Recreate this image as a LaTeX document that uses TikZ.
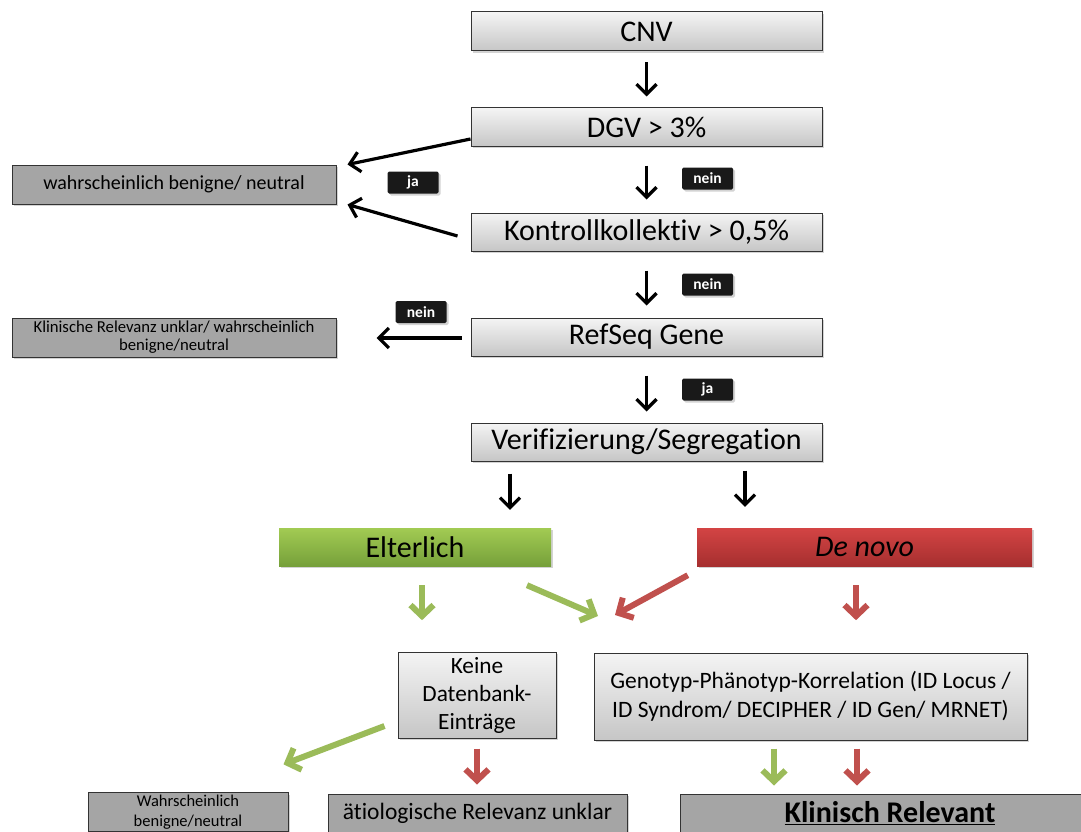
\documentclass[tikz,border=0pt]{standalone}
\usepackage{fontspec}
\setmainfont{Carlito}[Ligatures=NoCommon]
\usetikzlibrary{arrows.meta,shadows}

\definecolor{lgtop}{HTML}{F4F4F4}
\definecolor{lgbot}{HTML}{C6C6C6}
\definecolor{dgray}{HTML}{A5A5A5}
\definecolor{grtop}{HTML}{A2CB53}
\definecolor{grbot}{HTML}{76A03A}
\definecolor{rdtop}{HTML}{D34444}
\definecolor{rdbot}{HTML}{A62F2F}
\definecolor{garr}{HTML}{9BBB59}
\definecolor{rarr}{HTML}{C0504D}

\tikzset{
  shade/.style={drop shadow={opacity=0.35,shadow xshift=2pt,shadow yshift=-2pt}},
  gbox/.style={draw=black!80,line width=1pt,top color=lgtop,bottom color=lgbot,
    shade,inner sep=2pt},
  dbox/.style={draw=black!80,line width=1pt,fill=dgray,shade,inner sep=2pt},
  tag/.style={fill=black!90,text=white,rounded corners=1.5pt,font=\fontsize{15.5}{16}\selectfont\bfseries,
    minimum width=51pt,minimum height=22pt,inner sep=0pt,shade},
  blk/.style={line width=3.2pt,-{Straight Barb[length=10pt,width=20pt,line width=3.2pt]}},
  grn/.style={garr,line width=6pt,-{Straight Barb[length=11pt,width=23pt,line width=6pt]}},
  rd/.style={rarr,line width=6pt,-{Straight Barb[length=11pt,width=23pt,line width=6pt]}},
}

\begin{document}
\begin{tikzpicture}[x=1pt,y=-1pt]
\useasboundingbox (0,0) rectangle (1081,832);
\clip (0,0) rectangle (1081,831.5);

% main column
\node[gbox,minimum width=351pt,minimum height=39pt,font=\fontsize{30}{34}\selectfont] (cnv) at (646.5,31.5) {CNV};
\node[gbox,minimum width=351pt,minimum height=38pt,font=\fontsize{30}{34}\selectfont] (dgv) at (646.5,127) {DGV > 3\%};
\node[gbox,minimum width=351pt,minimum height=38pt,font=\fontsize{30}{34}\selectfont] (kontroll) at (646.5,232) {Kontrollkollektiv > 0,5\%};
\node[gbox,minimum width=351pt,minimum height=38pt,font=\fontsize{30}{34}\selectfont] (refseq) at (646.5,337) {RefSeq Gene};
\node[gbox,minimum width=351pt,minimum height=38pt,font=\fontsize{30}{34}\selectfont] (verif) at (646.5,442) {Verifizierung/Segregation};

% left results
\node[dbox,minimum width=324pt,minimum height=39pt,font=\fontsize{20}{22}\selectfont] (wbn) at (174,184.5) {wahrscheinlich benigne/ neutral};
\node[dbox,minimum width=324pt,minimum height=39pt,align=center,font=\fontsize{16.7}{18}\selectfont] (kru) at (174,337.5) {Klinische Relevanz unklar/ wahrscheinlich\\benigne/neutral};

% labels
\node[tag] (ja1) at (413,182.5) {ja};
\node[tag] (nein1) at (707.5,178.5) {nein};
\node[tag] (nein2) at (707.5,284.5) {nein};
\node[tag] (ja2) at (707.5,389.5) {ja};
\node[tag] (nein3) at (421,312) {nein};

% origin
\node[draw=none,top color=grtop,bottom color=grbot,shade,minimum width=272pt,minimum height=38pt,
  font=\fontsize{30}{34}\selectfont] (elter) at (415,547) {Elterlich};
\node[draw=none,top color=rdtop,bottom color=rdbot,shade,minimum width=335pt,minimum height=38pt,
  font=\fontsize{30}{34}\selectfont\itshape] (denovo) at (864.5,547) {De novo};

% lower boxes
\node[gbox,minimum width=158pt,minimum height=86pt,align=center,font=\fontsize{23.3}{28}\selectfont] (keine) at (477,695) {Keine\\Datenbank-\\Einträge};
\node[gbox,minimum width=433pt,minimum height=87pt,align=center,font=\fontsize{23.5}{29}\selectfont] (geno) at (810.5,696.5) {Genotyp-Phänotyp-Korrelation (ID Locus /\\ID Syndrom/ DECIPHER / ID Gen/ MRNET)};
\node[dbox,minimum width=200pt,minimum height=38pt,align=center,font=\fontsize{16.5}{20}\selectfont] (wbn2) at (188,812) {Wahrscheinlich\\benigne/neutral};
\node[dbox,minimum width=299pt,minimum height=38pt,font=\fontsize{23.5}{26}\selectfont] (aetio) at (477.5,813) {ätiologische Relevanz unklar};
\node[dbox,minimum width=420pt,minimum height=38pt,font=\fontsize{30}{32}\selectfont\bfseries] (klin) at (890,813) {\underline{Klinisch Relevant}};

\coordinate (meet) at (606,614);

% black arrows
\draw[blk,shorten <=11pt,shorten >=11pt] (cnv) -- (dgv);
\draw[blk,shorten <=19pt,shorten >=13pt] (dgv) -- (kontroll);
\draw[blk,shorten <=19pt,shorten >=12pt] (kontroll) -- (refseq);
\draw[blk,shorten <=19pt,shorten >=11pt] (refseq) -- (verif);
\draw[blk] ([yshift=-12pt]dgv.west) -- ([xshift=11pt]wbn.north east);
\draw[blk] ([xshift=-13pt,yshift=-4pt]kontroll.west) -- ([xshift=11pt]wbn.south east);
\draw[blk] ([xshift=-9pt,yshift=-1pt]refseq.west) -- ([xshift=40pt,yshift=-0.5pt]kru.east);
\draw[blk] ([xshift=-136.5pt,yshift=-12pt]verif.south) -- ([xshift=95pt,yshift=18pt]elter.north);
\draw[blk] ([xshift=98.5pt,yshift=-9pt]verif.south) -- ([xshift=-119.5pt,yshift=21pt]denovo.north);

% coloured arrows
\draw[grn] ([xshift=7pt,yshift=-19pt]elter.south) -- ++(0,35);
\draw[grn] ([xshift=112pt,yshift=-19pt]elter.south) -- ([xshift=-8pt,yshift=-2pt]meet);
\draw[rd] ([xshift=-9pt,yshift=-9pt]denovo.south west) -- ([xshift=9pt,yshift=-1pt]meet);
\draw[rd] ([xshift=-8.5pt,yshift=-19pt]denovo.south) -- ++(0,35);
\draw[grn] ([xshift=-13pt,yshift=-31pt]keine.west) -- ([xshift=-5pt,yshift=28pt]wbn2.north east);
\draw[rd,shorten <=10pt,shorten >=9pt] (keine.south) -- (keine.south |- aetio.north);
\draw[grn] ([xshift=-36.5pt,yshift=-8pt]geno.south) -- ++(0,37);
\draw[rd] ([xshift=46.5pt,yshift=-8pt]geno.south) -- ++(0,37);

\end{tikzpicture}
\end{document}
